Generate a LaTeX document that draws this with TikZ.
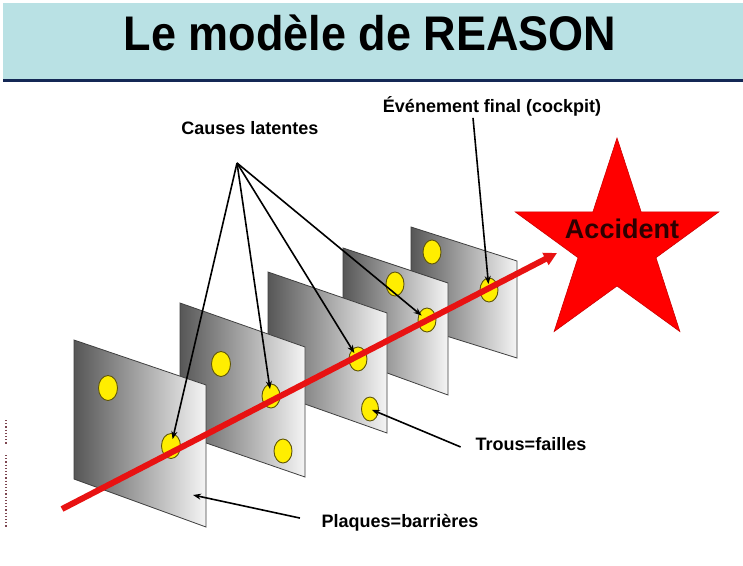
\documentclass[tikz,border=0pt]{standalone}
\usepackage{graphicx}
\usepackage{fontspec}
\setmainfont{Liberation Sans}
\usetikzlibrary{arrows.meta,shapes.geometric}

\definecolor{bandeau}{RGB}{185,225,228}
\definecolor{marine}{RGB}{20,40,85}
\definecolor{rouge}{RGB}{232,18,18}
\definecolor{jaune}{RGB}{255,238,0}
\definecolor{olive}{RGB}{95,85,10}
\definecolor{sombre}{RGB}{45,0,0}
\definecolor{pointille}{RGB}{125,70,80}

\begin{document}
\begin{tikzpicture}[x=1pt,y=-1pt,
    plaque/.style={draw=black!75, line width=0.8pt, left color=black!66, right color=black!4},
    trou/.style={ellipse, draw=olive, fill=jaune, line width=0.9pt, minimum width=19pt, minimum height=25pt, inner sep=0pt},
    lbl/.style={font=\fontsize{18}{20}\selectfont\bfseries, anchor=base, inner sep=2pt},
    fleche/.style={line width=1.6pt, -{Stealth[length=8pt,width=6pt]}}]

    \fill[white] (0,0) rectangle (743,565);
    \useasboundingbox (0,0) rectangle (743,565);

    % bandeau du titre
    \fill[bandeau] (3,3) rectangle (743,79);
    \draw[marine, line width=3pt] (3,80.5) -- (743,80.5);
    \node[font=\fontsize{45}{50}\selectfont\bfseries, anchor=base] (titre) at (370,50) {\scalebox{1}[1.08]{Le modèle de REASON}};

    \draw[pointille, dotted, line width=1.2pt] (6,420) -- (6,445);
    \draw[pointille, dotted, line width=1.2pt] (6,455) -- (6,527);

    % plaques, de la derniere a la premiere
    \foreach \xl/\yl/\xr/\yr/\hl/\hr in {411/227/517/261/98/97, 343/248/448/283/109/112, 268/272/387/313/119/120, 180/303/305/347/131/130, 74/340/206/385/139/142}
        \draw[plaque] (\xl,\yl) -- (\xr,\yr) -- (\xr,{\yr+\hr}) -- (\xl,{\yl+\hl}) -- cycle;

    % trous
    \node[trou] (h11) at (108,388) {};
    \node[trou] (h12) at (171,446) {};
    \node[trou] (h21) at (221,364) {};
    \node[trou, minimum width=18pt, minimum height=24pt] (h22) at (271,396) {};
    \node[trou, minimum width=18pt, minimum height=24pt] (h23) at (283,451) {};
    \node[trou, minimum width=18pt, minimum height=24pt] (h31) at (358,359) {};
    \node[trou, minimum width=17pt, minimum height=24pt] (h32) at (370,409) {};
    \node[trou, minimum width=18pt, minimum height=24pt] (h41) at (395,284) {};
    \node[trou, minimum width=18pt, minimum height=24pt] (h42) at (427,320) {};
    \node[trou, minimum width=18pt, minimum height=24pt] (h51) at (432,252) {};
    \node[trou, minimum width=18pt, minimum height=24pt] (h52) at (489,290) {};

    % etoile
    \begin{scope}[shift={(617,245)}]
        \fill[red, draw=red!80!black, line width=0.6pt] (-90:107) -- (-54:41) -- (-18:107) -- (18:41) -- (54:107) -- (90:41)
            -- (126:107) -- (162:41) -- (198:107) -- (234:41) -- cycle;
    \end{scope}
    \node[font=\fontsize{27}{30}\selectfont\bfseries, text=sombre, anchor=base] (accident) at (622,238) {Accident};

    % trajectoire
    \coordinate (depart) at (62,509);
    \coordinate (impact) at (557,253);
    \draw[rouge, line width=6pt, -{Triangle[length=13pt,width=13pt]}] (depart) -- (impact);

    % etiquettes
    \node[lbl] (causes) at (250,134) {Causes latentes};
    \node[lbl] (evt) at (492,112) {Événement final (cockpit)};
    \node[lbl] (trous) at (531,450) {Trous=failles};
    \node[lbl] (plaques) at (400,527) {Plaques=barrières};

    \coordinate (cl) at (237,163);
    \coordinate (cible) at (193,495);
    \foreach \h in {h12,h22,h31,h42}
        \draw[fleche, shorten >=7pt] (cl) -- (\h.center);
    \draw[fleche, shorten >=6pt] ([xshift=-19pt]evt.south) -- (h52.center);
    \draw[fleche, shorten <=14pt, shorten >=2pt] (trous.south west) -- (h32.center);
    \draw[fleche, shorten <=20pt] (plaques.west) -- (cible);

\end{tikzpicture}
\end{document}
